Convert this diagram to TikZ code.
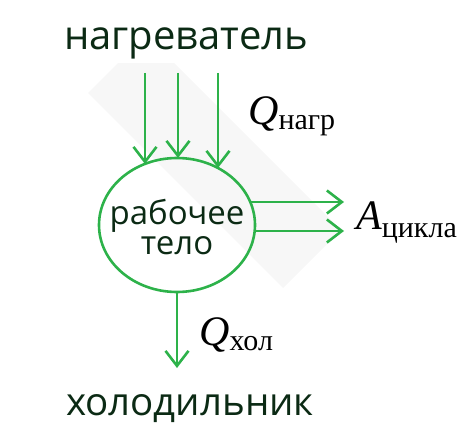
\documentclass[tikz,border=0pt]{standalone}
\usepackage{fontspec}
\setmainfont{Liberation Serif}
\newfontfamily\labfont{Open Sans}
\usetikzlibrary{arrows.meta,shapes.geometric}
\definecolor{grn}{HTML}{2DB24A}
\definecolor{dk}{HTML}{0B2A14}
\definecolor{bandc}{HTML}{F7F7F7}
\begin{document}
\begin{tikzpicture}[x=1pt,y=-1pt,
  conn/.style={draw=grn, line width=2.6pt, -{Straight Barb[length=15pt,width=23pt,line width=2.6pt]}},
  big/.style={font=\labfont\fontsize{40}{44}\selectfont, text=dk, inner sep=0pt},
  mid/.style={font=\labfont\fontsize{33}{26}\selectfont, text=dk, inner sep=0pt},
  sym/.style={font=\fontsize{42}{44}\selectfont, text=black, inner sep=0pt, anchor=base west},
  bodystyle/.style={draw=grn, line width=2.6pt, ellipse, minimum width=156pt, minimum height=134pt, inner sep=0pt}]
\useasboundingbox (0,0) rectangle (471,428);
\fill[bandc] (88,93) -- (146,35) -- (341,230) -- (283,288) -- cycle;
\node[big, fill=white, inner ysep=3pt, anchor=base] (heater) at (186,50) {нагреватель};
\node[bodystyle] (body) at (177,225) {};
\node[mid, anchor=base] (bodyt1) at (177,224) {рабочее};
\node[mid, anchor=base] (bodyt2) at (177,254) {тело};
\node[big, font=\labfont\fontsize{38.5}{44}\selectfont, anchor=base] (cooler) at (190,415) {холодильник};
% heater arrows
\coordinate (h1) at (145,73);
\coordinate (h2) at (178,73);
\coordinate (h3) at (218,73);
\coordinate (e1) at (145,164);
\coordinate (e2) at (178,158);
\coordinate (e3) at (218,168);
\draw[conn] (h1) -- (e1);
\draw[conn] (h2) -- (e2);
\draw[conn] (h3) -- (e3);
% work arrows
\coordinate (w1s) at (251,202);
\coordinate (w2s) at (255,231);
\coordinate (w1e) at (344,202);
\coordinate (w2e) at (344,231);
\draw[conn] (w1s) -- (w1e);
\draw[conn] (w2s) -- (w2e);
% cold arrow
\coordinate (c1) at (177,368);
\draw[conn] (body.south) -- (c1);
% labels
\node[sym] (qh) at (248,124) {\itshape Q\raisebox{-5pt}{\upshape\fontsize{30}{30}\selectfont нагр}};
\node[sym] (aw) at (356,229) {\itshape A\raisebox{-8pt}{\upshape\fontsize{30}{30}\selectfont цикла}};
\node[sym] (qc) at (199,345) {\itshape Q\raisebox{-5pt}{\upshape\fontsize{30}{30}\selectfont хол}};
\end{tikzpicture}
\end{document}
